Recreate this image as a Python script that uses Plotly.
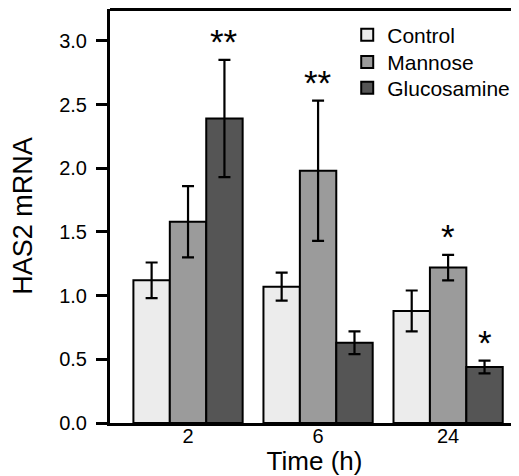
import plotly.graph_objects as go

# ---- data ----
times = ["2", "6", "24"]
control = [1.12, 1.07, 0.88]
control_err = [0.14, 0.11, 0.16]
mannose = [1.58, 1.98, 1.22]
mannose_err = [0.28, 0.55, 0.10]
gluco = [2.39, 0.63, 0.44]
gluco_err = [0.46, 0.09, 0.05]
sig_mannose = ["", "**", "*"]
sig_gluco = ["**", "", "*"]
y_ticks = [0.0, 0.5, 1.0, 1.5, 2.0, 2.5, 3.0]

FONT = "Liberation Sans, Arial, sans-serif"
# page body has an 8px margin; the figure is sized so it ends at the window edge
W, H = 511, 468
ML, MR, MT, MB = 102, 0, 1, 53
X_RANGE = [-0.6, 2.545]
BARGAP = 0.16

series = [
    ("Control", control, control_err, "#ececec", "legend"),
    ("Mannose", mannose, mannose_err, "#9b9b9b", "legend2"),
    ("Glucosamine", gluco, gluco_err, "#555555", "legend3"),
]

fig = go.Figure()
for name, vals, errs, col, leg in series:
    fig.add_trace(go.Bar(
        name=name, x=times, y=vals, legend=leg,
        marker=dict(color=col, line=dict(color="black", width=2)),
        error_y=dict(type="data", array=errs, visible=True,
                     color="black", thickness=2.2, width=6),
    ))

# significance markers
plot_w = W - ML - MR
cat_px = plot_w / (X_RANGE[1] - X_RANGE[0])
bar_px = cat_px * (1 - BARGAP) / 3
annotations = []
for offs, sigs, vals, errs in [(0, sig_mannose, mannose, mannose_err),
                               (1, sig_gluco, gluco, gluco_err)]:
    for i, (s, v, e) in enumerate(zip(sigs, vals, errs)):
        if s:
            annotations.append(dict(
                x=i, y=v + e, xref="x", yref="y", text=s, showarrow=False,
                xshift=offs * bar_px, yanchor="bottom", yshift=-3,
                font=dict(family=FONT, size=35, color="black"),
            ))

leg_common = dict(x=0.58, xanchor="left", yanchor="middle",
                  bgcolor="rgba(0,0,0,0)", font=dict(family=FONT, size=21))
fig.update_layout(
    width=W, height=H,
    margin=dict(l=ML, r=MR, t=MT, b=MB),
    paper_bgcolor="white", plot_bgcolor="white",
    barmode="group", bargap=BARGAP, bargroupgap=0,
    font=dict(family=FONT, color="black"),
    showlegend=True,
    legend=dict(y=0.937, **leg_common),
    legend2=dict(y=0.871, **leg_common),
    legend3=dict(y=0.809, **leg_common),
    annotations=annotations,
    shapes=[dict(type="line", xref="paper", yref="paper", x0=0, x1=1, y0=1, y1=1,
                 line=dict(color="black", width=4))],
)
fig.update_xaxes(
    type="category", range=X_RANGE, showline=True, linewidth=3, linecolor="black",
    ticks="", showgrid=False, zeroline=False,
    tickfont=dict(family=FONT, size=20), ticklabelstandoff=-7,
    title=dict(text="Time (h)", font=dict(family=FONT, size=26), standoff=4),
)
fig.update_yaxes(
    range=[0, 3.25], tickvals=y_ticks, ticktext=[f"{v:.1f}" for v in y_ticks],
    showline=True, linewidth=3, linecolor="black",
    ticks="outside", ticklen=11, tickwidth=2.5, tickcolor="black",
    showgrid=False, zeroline=False, ticklabelstandoff=5,
    tickfont=dict(family=FONT, size=20),
    title=dict(text="HAS2 mRNA", font=dict(family=FONT, size=27), standoff=25),
)

fig.write_html("out.html")
